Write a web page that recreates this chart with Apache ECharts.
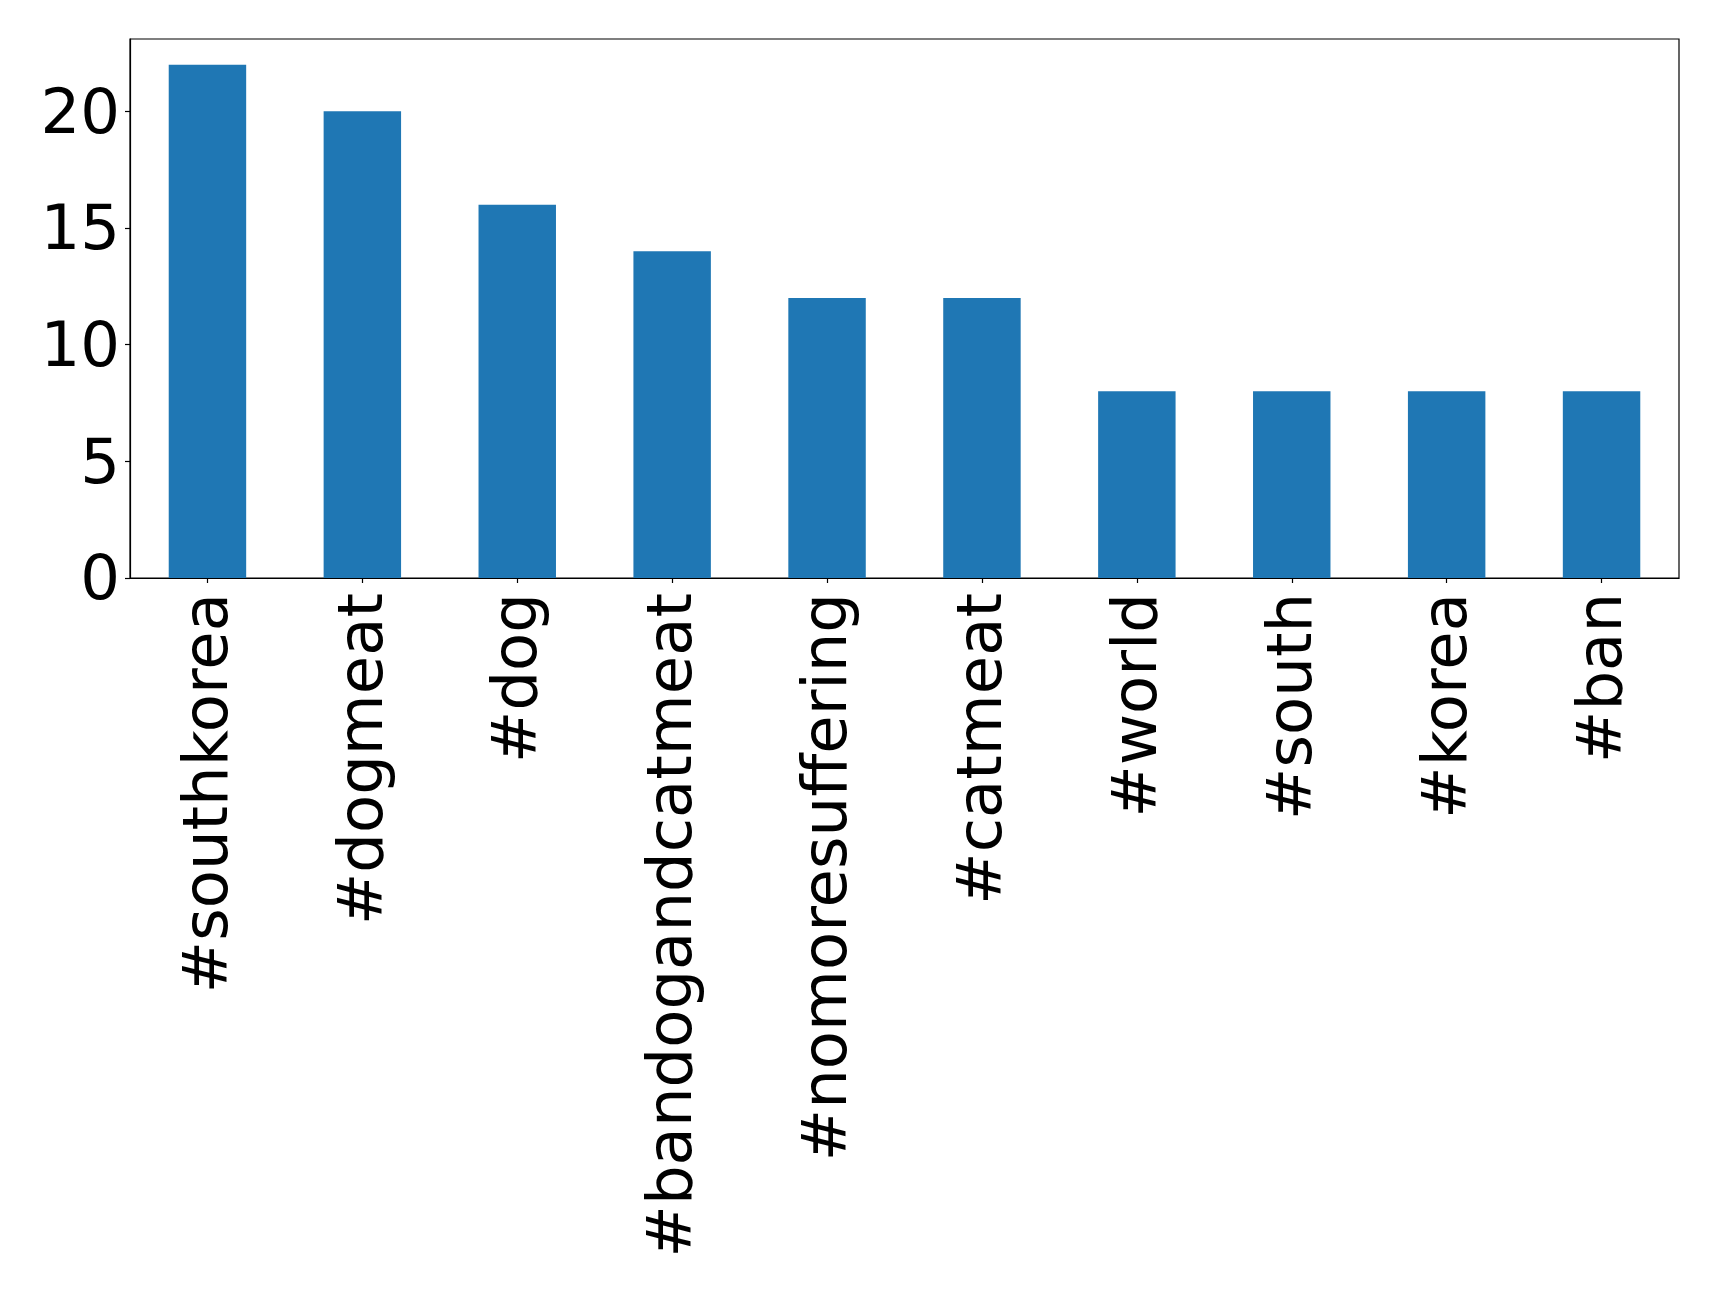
<!DOCTYPE html>
<html>
<head>
<meta charset="utf-8">
<script src="https://cdn.jsdelivr.net/npm/echarts@6/dist/echarts.min.js"></script>
<style>html,body{margin:0;padding:0;background:#fff;}#c{width:1719px;height:1292px;}</style>
</head>
<body>
<div id="c"></div>
<script>
const categories = ['#southkorea', '#dogmeat', '#dog', '#bandogandcatmeat', '#nomoresuffering', '#catmeat', '#world', '#south', '#korea', '#ban'];
const counts = [22, 20, 16, 14, 12, 12, 8, 8, 8, 8];
const yTicks = [0, 5, 10, 15, 20];

const chart = echarts.init(document.getElementById('c'), null, {renderer: 'canvas'});
const font = 'DejaVu Sans';
chart.setOption({
  animation: false,
  backgroundColor: '#ffffff',
  grid: {left: 130, right: 40, top: 39, bottom: 714, show: true, borderColor: '#000', borderWidth: 1.2, backgroundColor: 'transparent', containLabel: false},
  xAxis: {
    type: 'category',
    data: categories,
    axisLine: {show: true, lineStyle: {color: '#000', width: 1.2}},
    axisTick: {show: true, alignWithLabel: true, length: 5, lineStyle: {color: '#000', width: 1.2}},
    axisLabel: {
      rotate: 90, margin: 15, interval: 0,
      formatter: v => '{a|' + v + '}',
      rich: {a: {fontSize: 62.5, fontFamily: font, color: '#000', padding: [6, 0, 0, 0]}}
    },
    splitLine: {show: false}
  },
  yAxis: {
    type: 'value',
    min: 0, max: 23.1, interval: 5,
    axisLine: {show: true, lineStyle: {color: '#000', width: 1.2}},
    axisTick: {show: true, length: 5, lineStyle: {color: '#000', width: 1.2}, customValues: yTicks},
    axisLabel: {
      margin: 10, customValues: yTicks,
      formatter: v => '{a|' + v + '}',
      rich: {a: {fontSize: 62.5, fontFamily: font, color: '#000', padding: [10, 0, 0, 0]}}
    },
    splitLine: {show: false}
  },
  series: [{
    type: 'bar',
    data: counts,
    barWidth: '50%',
    itemStyle: {color: '#1f77b4'}
  }]
});
</script>
</body>
</html>
